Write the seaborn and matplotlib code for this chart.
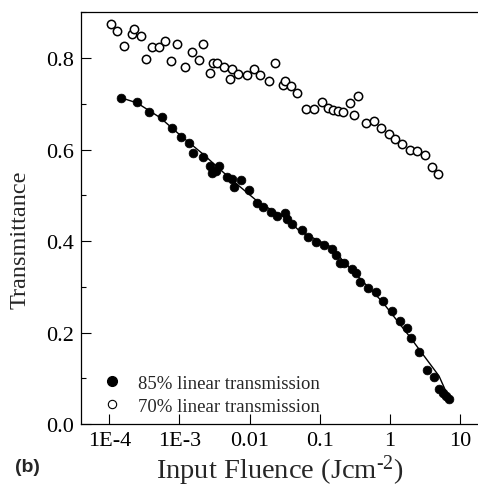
import numpy as np
import pandas as pd
import matplotlib
matplotlib.use("Agg")
import matplotlib.pyplot as plt
from matplotlib.ticker import FixedLocator, LogLocator, MultipleLocator, NullFormatter
from matplotlib.lines import Line2D
import seaborn as sns

# 85% linear transmission sample (filled circles)
fluence_85 = [1.48e-4, 2.46e-4, 3.65e-4, 5.64e-4, 7.83e-4, 1.05e-3, 1.38e-3, 1.58e-3,
              2.15e-3, 2.73e-3, 2.88e-3, 3.29e-3, 3.66e-3, 4.72e-3, 5.61e-3, 6.05e-3,
              7.46e-3, 9.70e-3, 1.28e-2, 1.57e-2, 2.04e-2, 2.44e-2, 3.23e-2, 3.38e-2,
              4.03e-2, 5.53e-2, 6.75e-2, 8.85e-2, 0.116, 0.151, 0.169, 0.196,
              0.224, 0.291, 0.326, 0.375, 0.493, 0.634, 0.805, 1.06,
              1.40, 1.74, 1.98, 2.63, 3.35, 4.30, 5.07, 5.66, 6.31, 7.03]
trans_85 = [0.713, 0.704, 0.681, 0.671, 0.648, 0.628, 0.615, 0.593,
            0.584, 0.564, 0.548, 0.552, 0.565, 0.541, 0.536, 0.518,
            0.533, 0.512, 0.484, 0.474, 0.463, 0.455, 0.462, 0.448,
            0.437, 0.424, 0.408, 0.398, 0.392, 0.383, 0.370, 0.353,
            0.351, 0.338, 0.331, 0.311, 0.297, 0.289, 0.269, 0.248,
            0.226, 0.210, 0.187, 0.158, 0.119, 0.102, 0.077, 0.067, 0.062, 0.055]

# fitted curve through the 85% data
fit_fluence = [1.48e-4, 2.48e-4, 5.28e-4, 1.05e-3, 2.17e-3, 5.26e-3, 1.41e-2,
               3.20e-2, 5.24e-2, 0.155, 0.208, 0.773, 1.94, 5.02, 7.03]
fit_trans = [0.713, 0.702, 0.670, 0.630, 0.590, 0.537, 0.482,
             0.452, 0.421, 0.385, 0.359, 0.268, 0.190, 0.105, 0.055]

# 70% linear transmission sample (open circles)
fluence_70 = [1.06e-4, 1.27e-4, 1.60e-4, 2.08e-4, 2.25e-4, 2.81e-4, 3.33e-4, 4.02e-4,
              5.11e-4, 6.28e-4, 7.65e-4, 9.23e-4, 1.20e-3, 1.52e-3, 1.92e-3, 2.15e-3,
              2.75e-3, 3.04e-3, 3.40e-3, 4.37e-3, 5.21e-3, 5.61e-3, 6.84e-3, 9.10e-3,
              1.15e-2, 1.42e-2, 1.91e-2, 2.30e-2, 2.96e-2, 3.23e-2, 3.85e-2, 4.74e-2,
              6.31e-2, 8.20e-2, 0.108, 0.131, 0.156, 0.184, 0.217, 0.270,
              0.305, 0.348, 0.457, 0.594, 0.748, 0.982, 1.18, 1.49,
              1.95, 2.44, 3.14, 4.03, 4.81]
trans_70 = [0.874, 0.859, 0.827, 0.853, 0.863, 0.848, 0.799, 0.824,
            0.825, 0.837, 0.794, 0.831, 0.781, 0.814, 0.796, 0.830,
            0.768, 0.790, 0.790, 0.781, 0.754, 0.776, 0.766, 0.763,
            0.776, 0.763, 0.750, 0.790, 0.740, 0.749, 0.738, 0.724,
            0.688, 0.689, 0.705, 0.691, 0.687, 0.685, 0.682, 0.701,
            0.676, 0.718, 0.659, 0.663, 0.647, 0.635, 0.624, 0.612,
            0.598, 0.597, 0.587, 0.562, 0.546]

x_ticks = [1e-4, 1e-3, 1e-2, 1e-1, 1, 10]
x_tick_labels = ["1E-4", "1E-3", "0.01", "0.1", "1", "10"]
y_ticks = [0.0, 0.2, 0.4, 0.6, 0.8]
y_tick_labels = ["0.0", "0.2", "0.4", "0.6", "0.8"]
legend_labels = ["85% linear transmission", "70% linear transmission"]

df85 = pd.DataFrame({"fluence": fluence_85, "T": trans_85})
df70 = pd.DataFrame({"fluence": fluence_70, "T": trans_70})
dffit = pd.DataFrame({"fluence": fit_fluence, "T": fit_trans})

sns.set_theme(style="ticks")
plt.rcParams["font.family"] = ["Liberation Serif", "DejaVu Serif"]
plt.rcParams["mathtext.fontset"] = "custom"
plt.rcParams["mathtext.rm"] = "Liberation Serif"
plt.rcParams["mathtext.it"] = "Liberation Serif:italic"

fig = plt.figure(figsize=(4.78, 4.89), dpi=100)
ax = fig.add_axes([80.7 / 478, 1 - 425 / 489, 1 - 80.7 / 478, (425 - 13.3) / 489])

sns.lineplot(data=dffit, x="fluence", y="T", ax=ax, color="black", lw=1.0,
             sort=False, estimator=None, legend=False)
sns.scatterplot(data=df85, x="fluence", y="T", ax=ax, marker="o", s=40,
                color="black", edgecolor="black", linewidth=0.5, legend=False, zorder=3)
sns.scatterplot(data=df70, x="fluence", y="T", ax=ax, marker="o", s=36,
                facecolor="white", edgecolor="black", linewidth=1.1, legend=False, zorder=3)

ax.set_xscale("log")
ax.set_xlim(10 ** -4.408, 10 ** 1.257)
ax.set_ylim(0, 0.9)

ax.xaxis.set_major_locator(FixedLocator(x_ticks))
ax.set_xticklabels(x_tick_labels)
ax.xaxis.set_minor_locator(LogLocator(base=10, subs=np.arange(2, 10)))
ax.xaxis.set_minor_formatter(NullFormatter())
ax.set_yticks(y_ticks)
ax.set_yticklabels(y_tick_labels)
ax.yaxis.set_minor_locator(MultipleLocator(0.1))

ax.tick_params(which="both", direction="in", colors="black", labelsize=16, pad=5,
               top=False, right=False)
ax.tick_params(which="major", length=7, width=0.8)
ax.tick_params(which="minor", length=3.5, width=0.8)

for side in ["left", "bottom", "top"]:
    ax.spines[side].set_visible(True)
    ax.spines[side].set_color("black")
    ax.spines[side].set_linewidth(0.9)
ax.spines["right"].set_visible(False)

ax.set_xlabel(r"Input Fluence (Jcm$^{\text{-2}}$)", fontsize=20.5, labelpad=2)
ax.set_ylabel("Transmittance", fontsize=17.5)
ax.yaxis.set_label_coords(-0.125, 0.45)

handles = [
    Line2D([], [], ls="none", marker="o", markersize=7, markerfacecolor="black",
           markeredgecolor="black"),
    Line2D([], [], ls="none", marker="o", markersize=6, markerfacecolor="white",
           markeredgecolor="black", markeredgewidth=0.8),
]
ax.legend(handles, legend_labels, loc="lower left", bbox_to_anchor=(0.027, -0.005),
          frameon=False, fontsize=13.5, handletextpad=0.9, labelspacing=0.32,
          handlelength=1.0, borderaxespad=0.2)

fig.text(40 / 478, 1 - 468 / 489, "(b)", fontsize=14, fontweight="bold",
         family=["Liberation Sans", "DejaVu Sans"], va="center", ha="right")

fig.savefig("out.png", dpi=100)
